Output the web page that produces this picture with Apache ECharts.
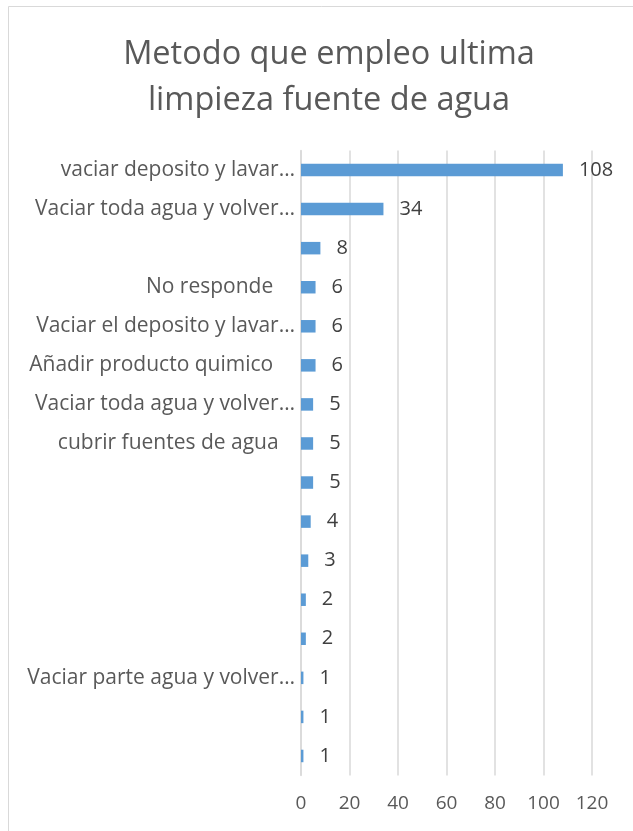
<!DOCTYPE html>
<html><head><meta charset="utf-8">
<script src="https://cdn.jsdelivr.net/npm/echarts@6/dist/echarts.min.js"></script>
<style>html,body{margin:0;padding:0;background:#fff}#c{width:633px;height:831px}</style>
</head><body><div id="c"></div>
<script>
const categories = [
  'vaciar deposito y lavar…',
  'Vaciar toda agua y volver…',
  '',
  'No responde    ',
  'Vaciar el deposito y lavar…',
  'Añadir producto quimico    ',
  'Vaciar toda agua y volver…',
  'cubrir fuentes de agua   ',
  '',
  '',
  '',
  '',
  '',
  'Vaciar parte agua y volver…',
  '',
  ''
];
const values = [108, 34, 8, 6, 6, 6, 5, 5, 5, 4, 3, 2, 2, 1, 1, 1];
const xTicks = [0, 20, 40, 60, 80, 100, 120];

const chart = echarts.init(document.getElementById('c'));
chart.setOption({
  animation: false,
  backgroundColor: '#fff',
  graphic: [{
    type: 'rect', shape: {x: 8.5, y: 6.5, width: 640, height: 840},
    style: {fill: 'none', stroke: '#d9d9d9', lineWidth: 1}, silent: true
  }],
  title: {
    text: 'Metodo que empleo ultima\nlimpieza fuente de agua',
    left: 324, textAlign: 'center', top: 27,
    textStyle: {fontFamily: 'Open Sans', fontSize: 32.5, fontWeight: 'normal', color: '#595959', lineHeight: 46}
  },
  grid: {left: 301, right: 41, top: 150.5, bottom: 55.5, containLabel: false},
  xAxis: {
    type: 'value', min: xTicks[0], max: xTicks[xTicks.length - 1], interval: 20,
    axisLine: {show: false}, axisTick: {show: false},
    splitLine: {lineStyle: {color: '#d9d9d9', width: 1.5}},
    axisLabel: {fontFamily: 'Open Sans', fontSize: 19, color: '#595959', margin: 19}
  },
  yAxis: {
    type: 'category', data: categories, inverse: true,
    axisLine: {lineStyle: {color: '#d9d9d9', width: 1.5}},
    axisTick: {show: false},
    axisLabel: {fontFamily: 'Open Sans', fontSize: 21, color: '#595959', margin: 6, interval: 0}
  },
  series: [{
    type: 'bar', data: values, barWidth: 12.5,
    itemStyle: {color: '#5b9bd5'},
    label: {show: true, position: 'right', distance: 16, fontFamily: 'Open Sans', fontSize: 20, color: '#404040'}
  }]
});
</script></body></html>
